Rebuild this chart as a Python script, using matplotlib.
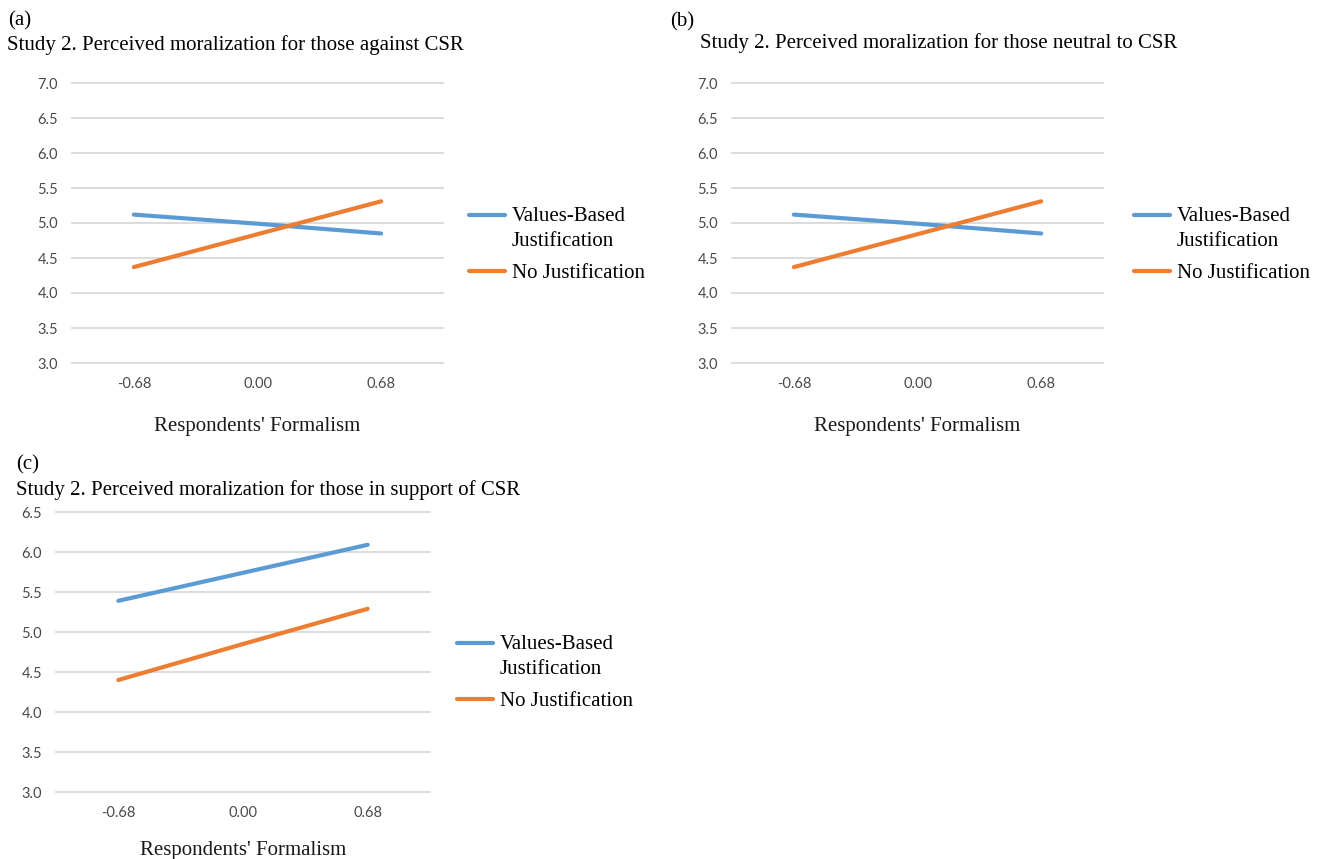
import matplotlib
matplotlib.use("Agg")
import matplotlib.pyplot as plt
from matplotlib.legend_handler import HandlerLine2D

# ---- data -------------------------------------------------------------
formalism_levels = ["-0.68", "0.00", "0.68"]
series_names = ["Values-Based\nJustification", "No Justification"]

against_values_based = [5.12, 4.99, 4.85]
against_no_just = [4.37, 4.84, 5.31]

neutral_values_based = [5.12, 4.99, 4.85]
neutral_no_just = [4.37, 4.84, 5.31]

support_values_based = [5.39, 5.74, 6.09]
support_no_just = [4.40, 4.85, 5.29]

panel_letters = ["(a)", "(b)", "(c)"]
panel_titles = [
    "Study 2. Perceived moralization for those against CSR",
    "Study 2. Perceived moralization for those neutral to CSR",
    "Study 2. Perceived moralization for those in support of CSR",
]
x_title = "Respondents' Formalism"

# ---- style ------------------------------------------------------------
BLUE = "#5B9BD5"
ORANGE = "#ED7D31"
GRID = "#D9D9D9"
TICK = "#4a4a4a"
SERIF = "Liberation Serif"
SANS = "Lato"

W, H = 1317, 859
fig = plt.figure(figsize=(W / 100, H / 100), dpi=100)
fig.patch.set_facecolor("white")


class FirstLineHandler(HandlerLine2D):
    """Legend line aligned with the first line of a two-line label."""

    def __init__(self, lift=0.0, **kw):
        super().__init__(**kw)
        self.lift = lift

    def create_artists(self, legend, orig_handle, xdescent, ydescent,
                       width, height, fontsize, trans):
        return super().create_artists(legend, orig_handle, xdescent,
                                      ydescent - self.lift * fontsize,
                                      width, height, fontsize, trans)


def add_panel(box, yrange, series_a, series_b, letter, title,
              letter_xy, title_xy, legend_xy, xlabel_pad):
    left, top, right, bottom = box
    ax = fig.add_axes([left / W, 1 - bottom / H,
                       (right - left) / W, (bottom - top) / H])
    xs = range(len(formalism_levels))
    l1, = ax.plot(xs, series_a, color=BLUE, lw=3.0,
                  solid_capstyle="round", zorder=3)
    l2, = ax.plot(xs, series_b, color=ORANGE, lw=3.0,
                  solid_capstyle="round", zorder=3)

    lo, hi = yrange
    ax.set_xlim(-0.5, len(formalism_levels) - 0.5)
    ax.set_ylim(lo, hi)
    ticks = [lo + 0.5 * i for i in range(int(round((hi - lo) / 0.5)) + 1)]
    ax.set_yticks(ticks)
    ax.set_yticklabels([f"{t:.1f}" for t in ticks])
    ax.set_xticks(list(xs))
    ax.set_xticklabels(formalism_levels)
    ax.tick_params(axis="both", length=0, labelsize=10.5, labelcolor=TICK)
    ax.tick_params(axis="x", pad=10)
    ax.tick_params(axis="y", pad=10)
    for lab in ax.get_xticklabels() + ax.get_yticklabels():
        lab.set_fontfamily(SANS)
    for s in ax.spines.values():
        s.set_visible(False)
    ax.yaxis.grid(True, color=GRID, lw=1.3)
    ax.set_axisbelow(True)
    for gl in ax.get_ygridlines():
        gl.set_clip_on(False)

    ax.set_xlabel(x_title, fontfamily=SERIF, fontsize=15, color="#1a1a1a",
                  labelpad=xlabel_pad)

    fig.text(letter_xy[0] / W, 1 - letter_xy[1] / H, letter,
             fontfamily=SERIF, fontsize=15, va="baseline", ha="left")
    fig.text(title_xy[0] / W, 1 - title_xy[1] / H, title,
             fontfamily=SERIF, fontsize=15, va="baseline", ha="left")

    leg = fig.legend([l1, l2], series_names, loc="center left",
                     bbox_to_anchor=(legend_xy[0] / W, 1 - legend_xy[1] / H),
                     bbox_transform=fig.transFigure, frameon=False,
                     prop={"family": SERIF, "size": 15},
                     handlelength=1.75, handletextpad=0.3, labelspacing=0.6,
                     borderpad=0, borderaxespad=0,
                     handler_map={l1: FirstLineHandler(lift=1.35)})
    for t in leg.get_texts():
        t.set_linespacing(1.4)
    return ax


add_panel((72, 83, 443, 363), (3.0, 7.0),
          against_values_based, against_no_just,
          panel_letters[0], panel_titles[0],
          (8, 25), (7, 50), (469, 245), 19)

add_panel((732, 83, 1103, 363), (3.0, 7.0),
          neutral_values_based, neutral_no_just,
          panel_letters[1], panel_titles[1],
          (670, 26), (700, 48), (1134, 245), 19)

add_panel((56, 512, 430, 792), (3.0, 6.5),
          support_values_based, support_no_just,
          panel_letters[2], panel_titles[2],
          (16, 469), (16, 495), (457, 673), 15)

fig.savefig("out.png", dpi=100, facecolor="white")
